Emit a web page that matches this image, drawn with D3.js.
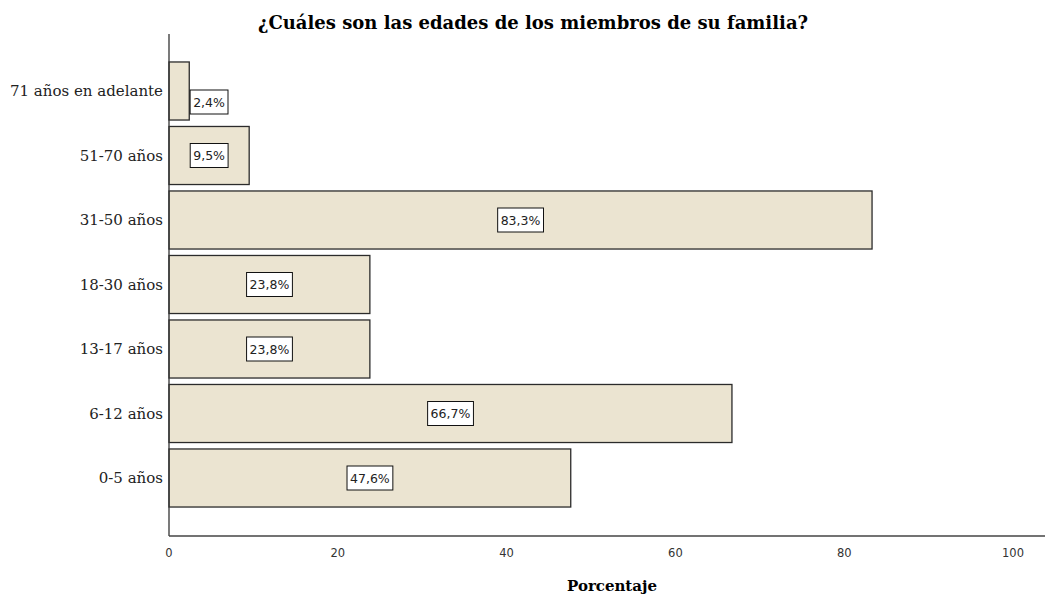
<!DOCTYPE html>
<html>
<head>
<meta charset="utf-8">
<script src="https://cdn.jsdelivr.net/npm/d3@7"></script>
<style>
  body { margin: 0; background: #fff; }
</style>
</head>
<body>
<div id="chart"></div>
<script>
// data
var categories = ["71 años en adelante", "51-70 años", "31-50 años", "18-30 años", "13-17 años", "6-12 años", "0-5 años"];
var values = [2.4, 9.5, 83.3, 23.8, 23.8, 66.7, 47.6];
var xTicks = [0, 20, 40, 60, 80, 100];

var width = 1045, height = 595;
var serif = "'DejaVu Serif', 'Liberation Serif', serif";
var sans = "'DejaVu Sans', 'Liberation Sans', sans-serif";

var svg = d3.select("#chart")
  .append("svg")
  .attr("width", width)
  .attr("height", height);

var x = d3.scaleLinear()
  .domain([0, 100])
  .range([169, 1013]);

var y = d3.scaleBand()
  .domain(categories)
  .range([58.75, 510.25])
  .paddingInner(0.1)
  .paddingOuter(0.05);

// title
svg.append("text")
  .attr("x", 533)
  .attr("y", 29)
  .attr("text-anchor", "middle")
  .style("font-family", serif)
  .style("font-weight", "bold")
  .style("font-size", "18px")
  .text("¿Cuáles son las edades de los miembros de su familia?");

// bars
svg.selectAll(".bar")
  .data(values)
  .enter()
  .append("rect")
    .attr("class", "bar")
    .attr("x", x(0))
    .attr("y", function(d, i) { return y(categories[i]) })
    .attr("width", function(d) { return x(d) - x(0) })
    .attr("height", y.bandwidth())
    .style("fill", "#ebe4d1")
    .style("stroke", "#2b2b2b")
    .style("stroke-width", 1.3);

// axes lines
svg.append("line")
  .attr("x1", x(0)).attr("x2", x(0))
  .attr("y1", 34).attr("y2", 536)
  .style("stroke", "#333").style("stroke-width", 1.3);
svg.append("line")
  .attr("x1", x(0)).attr("x2", width)
  .attr("y1", 536).attr("y2", 536)
  .style("stroke", "#444").style("stroke-width", 1.3);

// y labels
svg.selectAll(".ylab")
  .data(categories)
  .enter()
  .append("text")
    .attr("x", 163)
    .attr("y", function(d) { return y(d) + y.bandwidth() / 2 + 5 })
    .attr("text-anchor", "end")
    .style("font-family", serif)
    .style("font-size", "15px")
    .style("fill", "#222")
    .text(function(d) { return d });

// x tick labels
svg.selectAll(".xtick")
  .data(xTicks)
  .enter()
  .append("text")
    .attr("x", function(d) { return x(d) })
    .attr("y", 557)
    .attr("text-anchor", "middle")
    .style("font-family", sans)
    .style("font-size", "11.5px")
    .style("fill", "#333")
    .text(function(d) { return d });

// x axis title
svg.append("text")
  .attr("x", 612)
  .attr("y", 591)
  .attr("text-anchor", "middle")
  .style("font-family", serif)
  .style("font-weight", "bold")
  .style("font-size", "15px")
  .text("Porcentaje");

// value labels
var fmt = function(v) { return d3.format(".1f")(v).replace(".", ",") + "%" };
var labels = svg.selectAll(".vlab")
  .data(values)
  .enter()
  .append("g")
  .attr("transform", function(d, i) {
    var cx = x(d / 2), cy = y(categories[i]) + y.bandwidth() / 2;
    // small bars: push label out of the axis
    if (cx < x(0) + 30) { cx = x(0) + 40; cy += 11; }
    return "translate(" + cx + "," + cy + ")";
  });

labels.append("text")
  .attr("text-anchor", "middle")
  .attr("y", 4.5)
  .style("font-family", sans)
  .style("font-size", "12.5px")
  .style("fill", "#222")
  .text(function(d) { return fmt(d) });

labels.each(function() {
  var g = d3.select(this);
  var bb = g.select("text").node().getBBox();
  g.insert("rect", "text")
    .attr("x", bb.x - 3)
    .attr("y", -12)
    .attr("width", bb.width + 6)
    .attr("height", 24)
    .style("fill", "#fff")
    .style("stroke", "#111")
    .style("stroke-width", 1);
});
</script>
</body>
</html>
